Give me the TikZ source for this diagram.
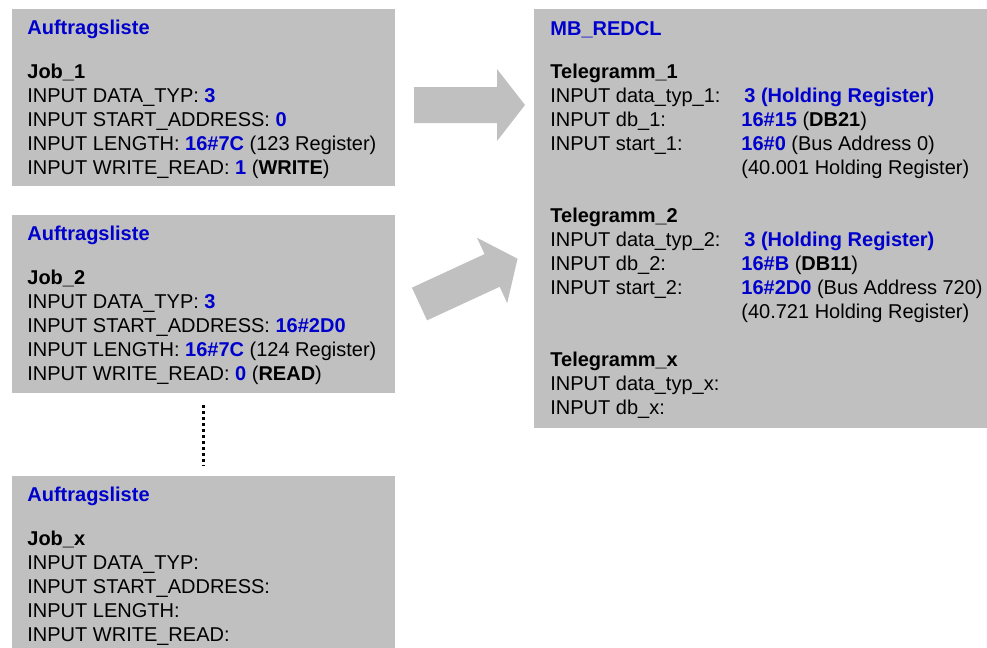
\documentclass[tikz,border=0pt]{standalone}
\usepackage{fontspec}
\setmainfont{Liberation Sans}
\usetikzlibrary{positioning,calc}
\definecolor{sieblue}{RGB}{0,0,205}
\definecolor{kastengrau}{RGB}{192,192,192}
\newcommand{\wert}[1]{\textcolor{sieblue}{\bfseries #1}}
\newcommand{\titel}[1]{\textcolor{sieblue}{\bfseries #1}}
\newcommand{\spalte}[1]{\makebox[95.5pt][l]{#1}}

\begin{document}
\begin{tikzpicture}[x=0.5pt,y=-0.5pt,
    kasten/.style={fill=kastengrau,draw=none,anchor=north west,inner sep=0pt,outer sep=0pt},
    zeilen/.style={anchor=base west,align=left,inner sep=0pt,font=\fontsize{10}{12}\selectfont},
    blockpfeil/.style={fill=kastengrau,draw=none}]
  \useasboundingbox (0,0) rectangle (987,648);
  % Auftragslisten
  \node[kasten,minimum width=191.5pt,minimum height=88.5pt] (job1) at (12,9) {};
  \node[kasten,minimum width=191.5pt,minimum height=89pt] (job2) at (12,215) {};
  \node[kasten,minimum width=191.5pt,minimum height=92pt] (jobx) at (12,476) {};
  % MB_REDCL
  \node[kasten,minimum width=228pt,minimum height=209.5pt] (redcl) at (534,9) {};

  % Texte (Anker = Grundlinie der letzten Zeile)
  \node[zeilen] (txt1) at (27,174.3) {\titel{Auftragsliste}\\[10.15pt]
    \textbf{Job\_1}\\
    INPUT DATA\_TYP: \wert{3}\\
    INPUT START\_ADDRESS: \wert{0}\\
    INPUT LENGTH: \wert{16\#7C} (123 Register)\\
    INPUT WRITE\_READ: \wert{1} (\textbf{WRITE})};
  \node[zeilen] (txt2) at (27,380.3) {\titel{Auftragsliste}\\[10.15pt]
    \textbf{Job\_2}\\
    INPUT DATA\_TYP: \wert{3}\\
    INPUT START\_ADDRESS: \wert{16\#2D0}\\
    INPUT LENGTH: \wert{16\#7C} (124 Register)\\
    INPUT WRITE\_READ: \wert{0} (\textbf{READ})};
  \node[zeilen] (txtx) at (27,641.3) {\titel{Auftragsliste}\\[10.15pt]
    \textbf{Job\_x}\\
    INPUT DATA\_TYP:\\
    INPUT START\_ADDRESS:\\
    INPUT LENGTH:\\
    INPUT WRITE\_READ:};

  \node[zeilen] (txtr) at (550,414.3) {\titel{MB\_REDCL}\\[9.65pt]
    \textbf{Telegramm\_1}\\
    \spalte{INPUT data\_typ\_1:}\hspace{1.5pt}\wert{3 (Holding Register)}\\
    \spalte{INPUT db\_1:}\wert{16\#15} (\textbf{DB21})\\
    \spalte{INPUT start\_1:}\wert{16\#0} (Bus Address 0)\\
    \spalte{}(40.001 Holding Register)\\[12pt]
    \textbf{Telegramm\_2}\\
    \spalte{INPUT data\_typ\_2:}\hspace{1.5pt}\wert{3 (Holding Register)}\\
    \spalte{INPUT db\_2:}\wert{16\#B} (\textbf{DB11})\\
    \spalte{INPUT start\_2:}\wert{16\#2D0} (Bus Address 720)\\
    \spalte{}(40.721 Holding Register)\\[12pt]
    \textbf{Telegramm\_x}\\
    INPUT data\_typ\_x:\\
    INPUT db\_x:};

  % Pfeile
  \begin{scope}[shift={(414,105)}]
    \fill[blockpfeil] (0,-18) -- (83,-18) -- (83,-36) -- (111,0) -- (83,36) -- (83,18) -- (0,18) -- cycle;
  \end{scope}
  \begin{scope}[shift={(419.5,304)},rotate=24.8]
    \fill[blockpfeil] (0,-18) -- (80,-18) -- (80,-36) -- (108,0) -- (80,36) -- (80,18) -- (0,18) -- cycle;
  \end{scope}
  % Punkte zwischen den Listen
  \draw[line width=1.5pt,dash pattern=on 1.5pt off 1.5pt,shorten <=6pt,shorten >=5pt] (job2.south) -- (jobx.north);
\end{tikzpicture}
\end{document}
